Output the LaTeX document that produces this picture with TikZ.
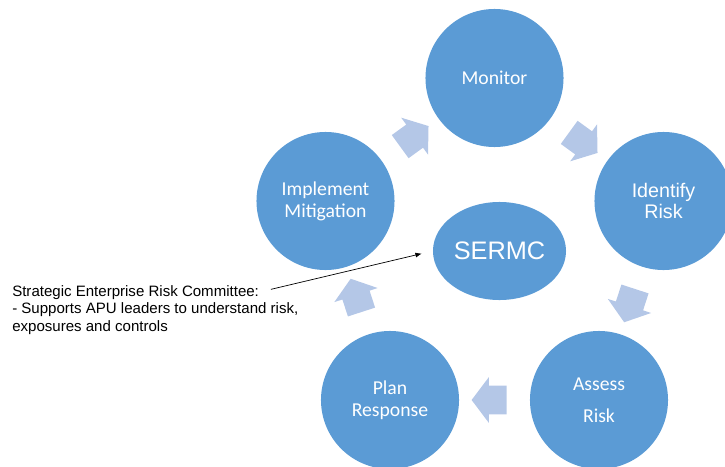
\documentclass[tikz,border=0pt]{standalone}
\usepackage{fontspec}
\setmainfont{Carlito}
\newfontfamily\arialfont{Liberation Sans}
\usetikzlibrary{arrows.meta,positioning,shapes.geometric,shapes.arrows,calc}
\definecolor{stepblue}{HTML}{5B9BD5}
\definecolor{flowblue}{HTML}{B4C7E7}

\begin{document}
\begin{tikzpicture}[
    x=0.025cm, y=-0.025cm,
    phase/.style={circle, fill=stepblue, text=white, minimum size=3.45cm, inner sep=0pt, align=center, font=\fontsize{14}{15.7}\selectfont},
    hub/.style={ellipse, fill=stepblue, text=white, minimum width=3.325cm, minimum height=2.45cm, inner sep=0pt, font=\arialfont\fontsize{18}{20}\selectfont},
    flow/.style={single arrow, fill=flowblue, minimum height=0.875cm, text height=0.35cm, text depth=0.35cm, text width=0pt, single arrow head extend=0.2125cm, single arrow tip angle=106, inner sep=0pt},
    note/.style={font=\arialfont\fontsize{10.7}{13.2}\selectfont, align=left, inner sep=0pt},
    pointer/.style={-{Latex[length=4.5pt,width=3.5pt]}, line width=0.5pt, shorten <=8.5pt, shorten >=8pt}
]
\useasboundingbox (0,0) rectangle (725,467);
\clip (0,0) rectangle (725,467);

% Risk cycle steps
\node[phase] (monitor) at (494.5,78) {Monitor};
\node[phase, font=\arialfont\fontsize{14}{15}\selectfont] (identify) at (663.5,201) {Identify\\Risk};
\node[phase] (assess) at (599,400) {Assess\\[7pt]Risk};
\node[phase] (plan) at (390,400) {Plan\\Response};
\node[phase] (implement) at (325.5,201) {Implement\\Mitigation};

% Committee in the middle
\node[hub] (sermc) at (499.5,251) {SERMC};

% Block arrows between the steps
\node[flow, rotate=36] (toMonitor) at ($(implement)!0.5!(monitor)$) {};
\node[flow, rotate=-36] (toIdentify) at ($(monitor)!0.5!(identify)$) {};
\node[flow, rotate=-108] (toAssess) at ($(identify)!0.5!(assess)$) {};
\node[flow, rotate=180] (toPlan) at ($(assess)!0.5!(plan)$) {};
\node[flow, rotate=108] (toImplement) at ($(plan)!0.5!(implement)$) {};

% Committee note
\node[note, anchor=base west] (ercTitle) at (12,296) {Strategic Enterprise Risk Committee:};
\node[note, anchor=north west] (ercBody) at (12,302) {- Supports APU leaders to understand risk,\\exposures and controls};
\draw[pointer] (ercTitle.east) -- (sermc.west);

\end{tikzpicture}
\end{document}
